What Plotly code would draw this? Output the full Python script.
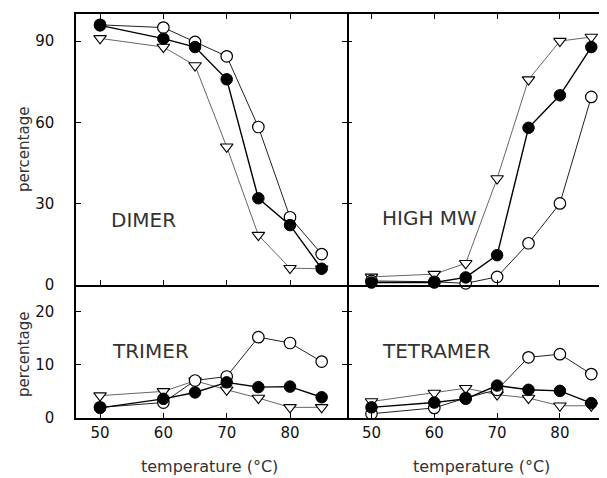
import plotly.graph_objects as go

temps = [50, 60, 65, 70, 75, 80, 85]

dimer_open = [96, 95, 89.7, 84.4, 58.3, 25, 11.4]
dimer_filled = [95.8, 90.9, 87.8, 75.9, 32, 22.1, 6]
dimer_tri = [91, 87.8, 81, 51, 18.4, 6.2, 6]

highmw_open = [1.5, 1.2, 0.6, 3, 15.4, 30.1, 69.4]
highmw_filled = [0.9, 0.9, 2.8, 11, 58, 70, 87.8]
highmw_tri = [3, 4, 8, 39.3, 75.8, 90, 91.5]

trimer_open = [2, 2.9, 7.05, 7.8, 15.2, 14.1, 10.6]
trimer_filled = [1.9, 3.6, 4.8, 6.7, 5.8, 5.9, 3.9]
trimer_tri = [4.2, 5, 7, 5.3, 3.75, 2, 2]

tetramer_open = [0.8, 1.9, 3.75, 5.3, 11.4, 12, 8.25]
tetramer_filled = [2, 2.9, 3.6, 6.1, 5.3, 5.1, 2.8]
tetramer_tri = [3.1, 4.7, 5.6, 4.4, 3.75, 2.3, 2.3]

x_ticks = [50, 60, 70, 80]
top_y_ticks = [0, 30, 60, 90]
bottom_y_ticks = [0, 10, 20]

panels = [
    ("x", "y", "DIMER", dimer_open, dimer_filled, dimer_tri),
    ("x2", "y2", "HIGH MW", highmw_open, highmw_filled, highmw_tri),
    ("x3", "y3", "TRIMER", trimer_open, trimer_filled, trimer_tri),
    ("x4", "y4", "TETRAMER", tetramer_open, tetramer_filled, tetramer_tri),
]

fig = go.Figure()
for xa, ya, name, op, fi, tr in panels:
    fig.add_trace(go.Scatter(
        x=temps, y=tr, xaxis=xa, yaxis=ya, mode="lines+markers",
        line=dict(color="#555", width=0.9),
        marker=dict(symbol="triangle-down", size=11, color="white",
                    line=dict(color="black", width=1.1)),
        showlegend=False, cliponaxis=False))
    fig.add_trace(go.Scatter(
        x=temps, y=op, xaxis=xa, yaxis=ya, mode="lines+markers",
        line=dict(color="#222", width=1),
        marker=dict(symbol="circle", size=11.5, color="white",
                    line=dict(color="black", width=1.2)),
        showlegend=False, cliponaxis=False))
    fig.add_trace(go.Scatter(
        x=temps, y=fi, xaxis=xa, yaxis=ya, mode="lines+markers",
        line=dict(color="black", width=1.4),
        marker=dict(symbol="circle", size=11.5, color="black",
                    line=dict(color="black", width=1)),
        showlegend=False, cliponaxis=False))

# page is offset by the 8px body margin
OFF = 8
W, H = 607 - OFF, 478 - OFF
L, R, T, B = 76 - OFF, 0, 14 - OFF, 478 - 418
pw = W - L - R
ph = H - T - B
xsplit = (347 - 76) / pw
ysplit = (418 - 285) / ph

font = dict(family="DejaVu Sans", size=15, color="#111")
xcommon = dict(tickvals=x_ticks, ticks="inside", ticklen=5, tickwidth=1,
               tickcolor="black", showline=True, linecolor="black", linewidth=1.5,
               showgrid=False, zeroline=False, tickfont=font)
ycommon = dict(ticks="inside", ticklen=5, tickwidth=1, tickcolor="black",
               linecolor="black", linewidth=1.5, ticklabelstandoff=17,
               showgrid=False, zeroline=False, tickfont=font)

fig.update_layout(
    width=W, height=H, margin=dict(l=L, r=R, t=T, b=B),
    paper_bgcolor="white", plot_bgcolor="white",
    xaxis=dict(xcommon, domain=[0, xsplit], range=[46.2, 89.0], showticklabels=False, mirror="ticks", anchor="y"),
    yaxis=dict(ycommon, domain=[ysplit, 1], range=[0, 100], tickvals=top_y_ticks, showline=True, mirror="ticks", anchor="x"),
    xaxis2=dict(xcommon, domain=[xsplit, 1], range=[46.1, 87.5], showticklabels=False, mirror="ticks", anchor="y2"),
    yaxis2=dict(ycommon, domain=[ysplit, 1], range=[0, 100], tickvals=top_y_ticks, showticklabels=False, showline=False, mirror=False, anchor="x2"),
    xaxis3=dict(xcommon, domain=[0, xsplit], range=[46.2, 89.0], mirror=False, anchor="y3"),
    yaxis3=dict(ycommon, domain=[0, ysplit], range=[0, 25], tickvals=bottom_y_ticks, showline=True, mirror="ticks", anchor="x3"),
    xaxis4=dict(xcommon, domain=[xsplit, 1], range=[46.1, 87.5], mirror=False, anchor="y4"),
    yaxis4=dict(ycommon, domain=[0, ysplit], range=[0, 25], tickvals=bottom_y_ticks, showticklabels=False, showline=False, mirror=False, anchor="x4"),
)

def px_to_paper(px, py):
    return (px - 76) / pw, (418 - py) / ph

annos = [
    ("DIMER", 143, 220, 20, 0),
    ("HIGH MW", 429, 218, 20, 0),
    ("TRIMER", 150, 351, 20, 0),
    ("TETRAMER", 436, 351, 20, 0),
    ("percentage", 24, 150, 15, -90),
    ("percentage", 24, 355, 15, -90),
    ("temperature (°C)", 209, 467, 16, 0),
    ("temperature (°C)", 481, 467, 16, 0),
]
for text, px, py, size, ang in annos:
    ax, ay = px_to_paper(px, py)
    fig.add_annotation(text=text, x=ax, y=ay, xref="paper", yref="paper",
                       showarrow=False, textangle=ang, xanchor="center", yanchor="middle",
                       font=dict(family="DejaVu Sans", size=size, color="#333"))

fig.write_html("out.html")
